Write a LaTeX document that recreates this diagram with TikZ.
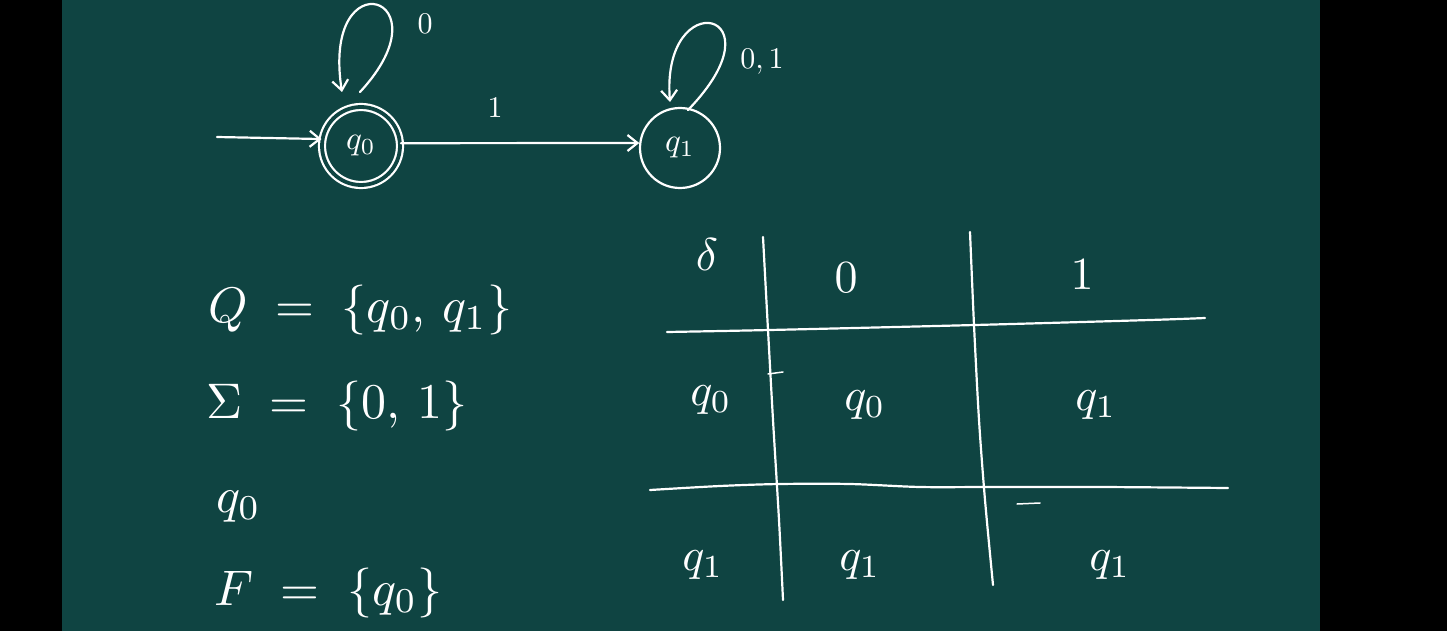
\documentclass[tikz,border=0pt]{standalone}
\usetikzlibrary{arrows.meta}
\definecolor{board}{RGB}{15,68,66}
\begin{document}
\begin{tikzpicture}[x=1pt,y=-1pt,
  chalk/.style={draw=white,line width=2.2pt,line cap=round,line join=round},
  tip/.style={-{Straight Barb[length=10pt,width=16pt,line width=2.2pt]}},
  state/.style={circle,draw=white,line width=2.2pt,inner sep=0pt,text=white},
  txt/.style={text=white,inner sep=0pt,scale=5},
  cell/.style={text=white,inner sep=0pt,scale=4.6},
  lab/.style={text=white,inner sep=0pt,scale=3}]
\useasboundingbox (0,0) rectangle (1447,631);
\fill[black] (0,0) rectangle (1447,631);
\fill[board] (62,0) rectangle (1320,631);
% automaton
\node[state,minimum size=78pt,double=board,double distance=3.8pt] (q0) at (361,146) {\scalebox{3.3}{$q_0$}};
\node[state,minimum size=80pt] (q1) at (680,148) {\scalebox{3.3}{$q_1$}};
\coordinate (start) at (217,137);
\draw[chalk,tip] (start) -- (q0.170);
\draw[chalk,tip] (q0.4) -- (q1.173);
\node[lab] (l1) at (495,108) {$1$};
\coordinate (s0) at (360,92);
\coordinate (t0) at (342,92);
\draw[chalk,tip] (s0) .. controls (450,-5) and (321,-43) .. (t0);
\node[lab] (l0) at (425,24) {$0$};
\coordinate (s1) at (688,110);
\coordinate (t1) at (670,102);
\draw[chalk,tip] (s1) .. controls (785,10) and (661,-17) .. (t1);
\node[lab] (l01) at (762,62) {$0,1$};
% definitions
\node[txt,anchor=base west] (Q) at (207,322) {$Q\;=\;\{q_0,\,q_1\}$};
\node[txt,anchor=base west] (S) at (205,418) {$\Sigma\;=\;\{0,\,1\}$};
\node[txt,anchor=base west] (I) at (215,512) {$q_0$};
\node[txt,anchor=base west] (F) at (213,605) {$F\;=\;\{q_0\}$};
% table
\draw[chalk] plot[smooth] coordinates {(763,237) (768,330) (773,420) (779,520) (783,600)};
\draw[chalk] plot[smooth] coordinates {(970,232) (974,325) (979,420) (985,500) (993,585)};
\draw[chalk] plot[smooth] coordinates {(667,332) (770,330) (975,325) (1150,320) (1205,318)};
\draw[chalk] plot[smooth] coordinates {(650,490) (720,486) (780,484) (850,484) (920,487) (990,487) (1100,487) (1228,488)};
\draw[chalk,line width=1.5pt] (768,374) -- (783,372);
\draw[chalk,line width=1.5pt] (1017,504) -- (1040,503);
\node[cell] (d) at (707,255) {$\delta$};
\node[cell] (c0) at (846,278) {$0$};
\node[cell] (c1) at (1082,275) {$1$};
\node[cell] (r0) at (711,400) {$q_0$};
\node[cell] (a00) at (865,405) {$q_0$};
\node[cell] (a01) at (1096,405) {$q_1$};
\node[cell] (r1) at (703,565) {$q_1$};
\node[cell] (a10) at (860,565) {$q_1$};
\node[cell] (a11) at (1110,565) {$q_1$};
\end{tikzpicture}
\end{document}
